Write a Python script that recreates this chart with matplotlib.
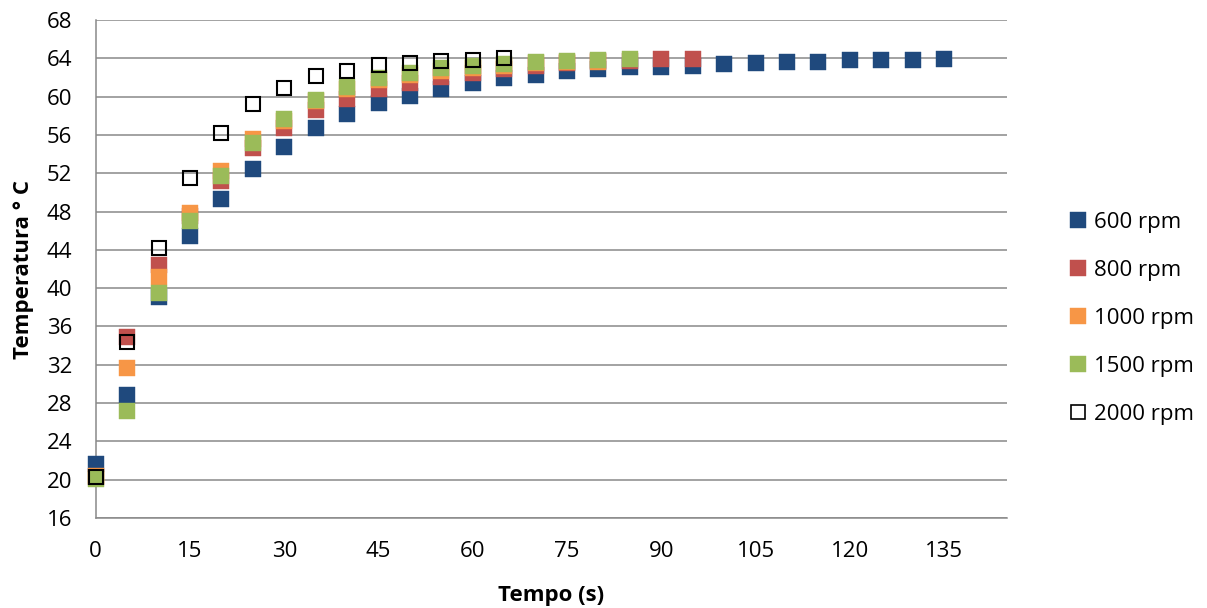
import matplotlib
matplotlib.use("Agg")
import matplotlib.pyplot as plt
from matplotlib.lines import Line2D

plt.rcParams['font.family'] = ['Open Sans', 'DejaVu Sans']

# ---- data ----
t_600 = [0, 5, 10, 15, 20, 25, 30, 35, 40, 45, 50, 55, 60, 65, 70, 75, 80, 85, 90, 95,
         100, 105, 110, 115, 120, 125, 130, 135]
temp_600 = [21.6, 28.8, 39.1, 45.5, 49.3, 52.4, 54.7, 56.7, 58.2, 59.3, 60.1, 60.8, 61.4, 61.9,
            62.3, 62.7, 62.9, 63.05, 63.15, 63.25, 63.4, 63.5, 63.6, 63.6, 63.8, 63.8, 63.8, 63.9]

t_800 = [0, 5, 10, 15, 20, 25, 30, 35, 40, 45, 50, 55, 60, 65, 70, 75, 80, 85, 90, 95]
temp_800 = [20.3, 34.9, 42.4, 47.5, 51.2, 54.6, 56.7, 58.6, 59.8, 60.8, 61.4, 62.1, 62.5, 62.85,
            63.2, 63.5, 63.7, 63.7, 63.9, 63.9]

t_1000 = [0, 5, 10, 15, 20, 25, 30, 35, 40, 45, 50, 55, 60, 65, 70, 75, 80]
temp_1000 = [20.4, 31.7, 41.2, 47.8, 52.2, 55.6, 57.5, 59.5, 60.8, 61.7, 62.3, 62.7, 63.0, 63.2,
             63.5, 63.6, 63.6]

t_1500 = [0, 5, 10, 15, 20, 25, 30, 35, 40, 45, 50, 55, 60, 65, 70, 75, 80, 85]
temp_1500 = [20.1, 27.2, 39.5, 47.0, 51.7, 55.2, 57.7, 59.7, 61.0, 61.9, 62.5, 63.0, 63.2, 63.45,
             63.6, 63.7, 63.8, 63.9]

t_2000 = [0, 5, 10, 15, 20, 25, 30, 35, 40, 45, 50, 55, 60, 65]
temp_2000 = [20.3, 34.4, 44.2, 51.5, 56.2, 59.2, 60.9, 62.2, 62.7, 63.3, 63.5, 63.7, 63.8, 64.0]

series_labels = ['600 rpm', '800 rpm', '1000 rpm', '1500 rpm', '2000 rpm']
x_ticks = list(range(0, 136, 15))
y_ticks = list(range(16, 69, 4))

# ---- styling ----
colors = ['#1F497D', '#C0504D', '#F79646', '#9BBB59', 'black']
grid_c = '#898989'
fs = 16
ms = 11

fig = plt.figure(figsize=(12.07, 6.08), dpi=100)
ax = fig.add_axes([0.0793, 0.148, 0.755, 0.819])

series = [(t_600, temp_600), (t_800, temp_800), (t_1000, temp_1000),
          (t_1500, temp_1500), (t_2000, temp_2000)]
handles = []
for i, ((xs, ys), lab) in enumerate(zip(series, series_labels)):
    if i < 4:
        ax.plot(xs, ys, linestyle='none', marker='s', markersize=ms,
                markerfacecolor=colors[i], markeredgecolor=colors[i],
                markeredgewidth=0.3, zorder=3 + i, clip_on=False)
        h = Line2D([], [], linestyle='none', marker='s', markersize=ms,
                   markerfacecolor=colors[i], markeredgecolor=colors[i], markeredgewidth=0.3)
    else:
        ax.plot(xs, ys, linestyle='none', marker='s', markersize=ms - 1,
                markerfacecolor='none', markeredgecolor='black',
                markeredgewidth=1.5, zorder=3 + i, clip_on=False)
        h = Line2D([], [], linestyle='none', marker='s', markersize=ms - 1.5,
                   markerfacecolor='none', markeredgecolor='black', markeredgewidth=1.2)
    handles.append(h)

ax.set_xlim(0, 145)
ax.set_ylim(16, 68)
ax.set_xticks(x_ticks)
ax.set_yticks(y_ticks)
ax.grid(axis='y', color=grid_c, linewidth=1.1)
ax.set_axisbelow(True)
for s in ['top', 'right']:
    ax.spines[s].set_visible(False)
for s in ['left', 'bottom']:
    ax.spines[s].set_color(grid_c)
    ax.spines[s].set_linewidth(1.1)
ax.tick_params(axis='both', length=0, labelsize=fs, colors='black')
ax.tick_params(axis='y', pad=17)
ax.tick_params(axis='x', pad=16.5)

ax.set_xlabel('Tempo (s)', fontsize=fs, fontweight='bold')
ax.set_ylabel('Temperatura ° C', fontsize=fs, fontweight='bold')
ax.xaxis.set_label_coords(0.5, -0.135)
ax.yaxis.set_label_coords(-0.0677, 0.5)

fig.legend(handles, series_labels, loc='center left',
           bbox_to_anchor=(0.8754, 0.4765), frameon=False, fontsize=fs,
           handlelength=0.9, handletextpad=0.3, labelspacing=1.22, borderpad=0)

fig.savefig('out.png', dpi=100)
